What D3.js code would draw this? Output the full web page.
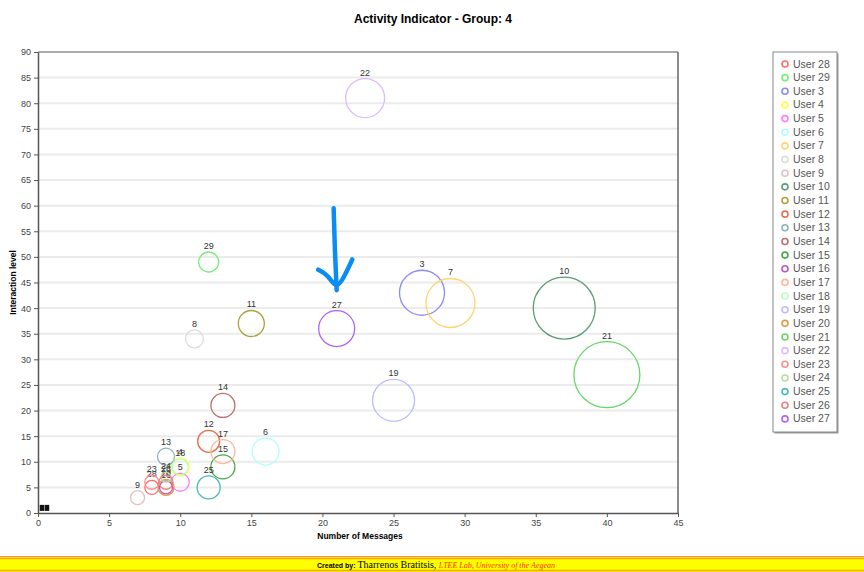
<!DOCTYPE html>
<html>
<head>
<meta charset="utf-8">
<script src="https://cdn.jsdelivr.net/npm/d3@7"></script>
<style>
  body { margin: 0; background: #fff; font-family: Arial, "Liberation Sans", sans-serif; }
  .grid line { stroke: #ebebeb; stroke-width: 2; }
  .axis text { fill: #444; font-size: 9px; }
  .axis path, .axis line { stroke: #555; }
</style>
</head>
<body>
<div id="chart"></div>
<script>
// chart values
var users   = ["28","29","3","4","5","6","7","8","9","10","11","12","13","14","15","16","17","18","19","20","21","22","23","24","25","26","27"];
var messages = [8, 12, 27, 10, 10, 16, 29, 11, 7, 37, 15, 12, 9, 13, 13, 9, 13, 10, 25, 9, 40, 23, 8, 9, 12, 9, 21];
var interaction = [5, 49, 43, 9, 6, 12, 41, 34, 3, 40, 37, 14, 11, 21, 9, 5, 12, 9, 22, 5, 27, 81, 6, 7, 5, 6, 36];
var activity = [7, 10, 22.5, 9, 9, 13.5, 24.5, 9, 7, 31, 13, 11, 8.5, 12, 12, 6.5, 12, 8, 21, 8, 33, 19.5, 7, 5, 11.5, 7, 18];
var colours = ["#ff6b6b","#77f077","#8a8aff","#ffff44","#ff7cff","#b0ffff","#ffd470","#dcdcdc","#e2c0c0","#5a9e78",
               "#aaa23a","#e4704f","#88b4bb","#b87070","#4aa64a","#b858c6","#ffb898","#b8ffb8","#bcbcff","#e29a4c",
               "#66d866","#dcbcff","#ff8c8c","#b8dca0","#4cb8b8","#e88080","#ad64ff"];
// users without activity, drawn as squares near the origin
var idleX = [0.3, 0.65];
var idleY = [1, 1];
var xTicks = [0, 5, 10, 15, 20, 25, 30, 35, 40, 45];
var yTicks = [0, 5, 10, 15, 20, 25, 30, 35, 40, 45, 50, 55, 60, 65, 70, 75, 80, 85, 90];

var margin = {top: 52, left: 38},
    width = 640,
    height = 461;

var svg = d3.select("#chart").append("svg")
    .attr("width", 864)
    .attr("height", 572);

var g = svg.append("g")
    .attr("transform", "translate(" + margin.left + "," + margin.top + ")");

var x = d3.scaleLinear().domain([0, 45]).range([0, width]);
var y = d3.scaleLinear().domain([0, 90]).range([height, 0]);
var r = d3.scaleLinear().domain([0, 1]).range([0, 1]);

// title
svg.append("text")
    .attr("x", 433).attr("y", 23)
    .attr("text-anchor", "middle")
    .style("font-size", "12px").style("font-weight", "bold")
    .text("Activity Indicator - Group: 4");

// grid lines
g.append("g").attr("class", "grid")
  .selectAll("line").data(yTicks.slice(1)).enter().append("line")
    .attr("x1", 0).attr("x2", width)
    .attr("y1", function(d) { return y(d); })
    .attr("y2", function(d) { return y(d); });

// frame top and right
g.append("line").attr("x1", 0).attr("x2", width).attr("y1", 0).attr("y2", 0)
    .style("stroke", "#aaa").style("stroke-width", 2);
g.append("line").attr("x1", width).attr("x2", width).attr("y1", 0).attr("y2", height)
    .style("stroke", "#666").style("stroke-width", 1.5);

// axes
g.append("g").attr("class", "axis")
    .attr("transform", "translate(0," + height + ")")
    .call(d3.axisBottom(x).tickValues(xTicks).tickSize(4).tickSizeOuter(0));
g.append("g").attr("class", "axis")
    .call(d3.axisLeft(y).tickValues(yTicks).tickSize(4).tickSizeOuter(0));
g.selectAll(".axis .domain").style("stroke-width", 1.5);

// axis titles
svg.append("text")
    .attr("x", 360).attr("y", 539)
    .attr("text-anchor", "middle")
    .style("font-size", "8.5px").style("font-weight", "bold")
    .text("Number of Messages");
svg.append("text")
    .attr("transform", "translate(16," + (margin.top + height / 2) + ") rotate(-90)")
    .attr("text-anchor", "middle")
    .style("font-size", "8.5px").style("font-weight", "bold")
    .text("Interaction level");

// bubbles
var data = users.map(function(u, i) {
    return {user: u, x: messages[i], y: interaction[i], size: activity[i], colour: colours[i]};
});

var bubbles = g.selectAll(".bubble").data(data).enter().append("g").attr("class", "bubble");
bubbles.append("circle")
    .attr("cx", function(d) { return x(d.x); })
    .attr("cy", function(d) { return y(d.y); })
    .attr("r", function(d) { return r(d.size); })
    .style("fill", "none")
    .style("stroke", function(d) { return d.colour; })
    .style("stroke-width", 1.3);
bubbles.append("text")
    .attr("x", function(d) { return x(d.x); })
    .attr("y", function(d) { return y(d.y) - r(d.size) - 3; })
    .attr("text-anchor", "middle")
    .style("font-size", "9px").style("fill", "#333")
    .text(function(d) { return d.user; });

// idle users
g.selectAll(".idle").data(idleX).enter().append("rect")
    .attr("x", function(d) { return x(d) - 2.5; })
    .attr("y", function(d, i) { return y(idleY[i]) - 3; })
    .attr("width", 4.5).attr("height", 6)
    .style("fill", "#111");

// annotation arrow
var arrow = d3.line().curve(d3.curveBasis);
var ax = x(21);
g.append("path")
    .attr("d", arrow([[ax - 3, y(59.5)], [ax - 2, y(52)], [ax, y(43.5)]]))
    .style("fill", "none").style("stroke", "#0a8cf5").style("stroke-width", 4.5)
    .style("stroke-linecap", "round");
g.append("path")
    .attr("d", arrow([[x(19.7), y(47.5)], [x(20.4), y(46.5)], [ax, y(43.5)], [x(21.6), y(46.5)], [x(22.1), y(49.5)]]))
    .style("fill", "none").style("stroke", "#0a8cf5").style("stroke-width", 4.5)
    .style("stroke-linecap", "round").style("stroke-linejoin", "round");

// legend
var legend = svg.append("g").attr("transform", "translate(773,52)");
legend.append("rect")
    .attr("x", 1.5).attr("y", 1.5).attr("width", 64).attr("height", 380)
    .style("fill", "#999");
legend.append("rect")
    .attr("width", 64).attr("height", 380)
    .style("fill", "#fff").style("stroke", "#888");
var items = legend.selectAll(".item").data(data).enter().append("g")
    .attr("transform", function(d, i) { return "translate(0," + (12 + i * 13.65) + ")"; });
items.append("circle")
    .attr("cx", 12).attr("cy", 0).attr("r", 3)
    .style("fill", "none")
    .style("stroke", function(d) { return d.colour; })
    .style("stroke-width", 1.6);
items.append("text")
    .attr("x", 20).attr("y", 3.5)
    .style("font-size", "10.5px").style("fill", "#555")
    .text(function(d) { return "User " + d.user; });

// footer
svg.append("rect").attr("x", 0).attr("y", 556).attr("width", 864).attr("height", 16).style("fill", "#ffff00");
svg.append("line").attr("x1", 0).attr("x2", 864).attr("y1", 556.5).attr("y2", 556.5).style("stroke", "#ff8080");
svg.append("line").attr("x1", 0).attr("x2", 864).attr("y1", 558.5).attr("y2", 558.5).style("stroke", "#ffa500").style("stroke-width", 1.5);
svg.append("line").attr("x1", 0).attr("x2", 864).attr("y1", 570.5).attr("y2", 570.5).style("stroke", "#ffa500").style("stroke-width", 1.5);
var foot = svg.append("text").attr("x", 436).attr("y", 567.5).attr("text-anchor", "middle");
foot.append("tspan").style("font-size", "7px").style("font-weight", "bold").text("Created by: ");
foot.append("tspan").style("font-size", "10px").style("font-family", "Liberation Serif, serif").text("Tharrenos Bratitsis, ");
foot.append("tspan").style("font-size", "8px").style("font-family", "Liberation Serif, serif")
    .style("font-style", "italic").style("fill", "#ff3300").text("LTEE Lab, University of the Aegean");
</script>
</body>
</html>
